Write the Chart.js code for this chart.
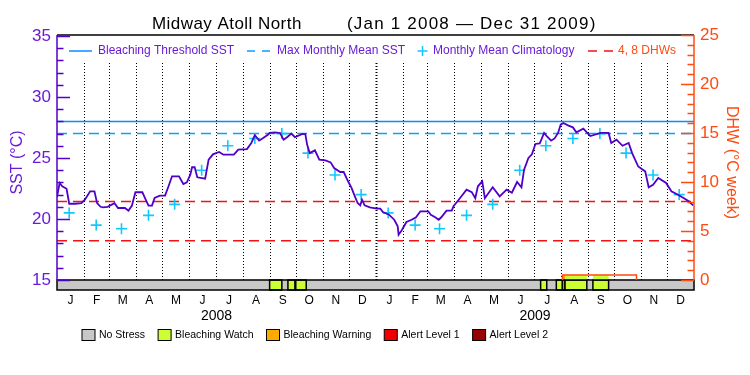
<!DOCTYPE html>
<html>
<head>
<meta charset="utf-8">
<script src="https://cdn.jsdelivr.net/npm/chart.js@4.4.1/dist/chart.umd.min.js"></script>
<style>
  html, body { margin: 0; padding: 0; background: #fff; }
</style>
</head>
<body>
<canvas id="chart" width="750" height="375"></canvas>
<script>
const FONT = '"Liberation Sans", Arial, sans-serif';

// SST, day 0 = Jan 1 2008
const sstDays = [0, 3, 6, 11, 14, 21, 28, 32, 38, 43, 46, 50, 53, 58, 66, 70, 78, 82, 86, 90,
  98, 101, 105, 109, 112, 118, 124, 128, 132, 140, 145, 149, 153, 155, 158, 161, 170, 174, 179, 186,
  191, 203, 208, 218, 223, 227, 232, 237, 242, 244, 250, 256, 260, 264, 269, 273, 281, 285, 287, 290,
  296, 301, 308, 314, 318, 325, 329, 334, 338, 341, 345, 348, 350, 353, 359, 367, 371, 374, 381, 387,
  391, 392, 396, 401, 407, 412, 417, 426, 429, 434, 438, 441, 447, 453, 455, 461, 470, 476, 480, 483,
  488, 491, 494, 500, 508, 516, 522, 528, 533, 536, 541, 545, 549, 554, 559, 562, 567, 571, 575, 578,
  581, 587, 592, 596, 604, 612, 624, 633, 636, 642, 649, 656, 660, 667, 675, 679, 684, 690, 699, 705,
  711, 719, 725, 730];
const sstValues = [21.8, 22.95, 22.68, 22.48, 21.25, 21.25, 21.3, 21.58, 22.27, 22.27, 21.3, 21.0, 20.95, 21.0, 21.3, 20.9, 20.9, 20.68, 21.1, 22.19,
  22.19, 21.72, 21.1, 21.1, 21.72, 21.91, 21.91, 22.68, 23.5, 23.5, 22.87, 23.0, 23.63, 24.24, 24.24, 23.42, 23.3, 24.86, 25.3, 25.5,
  25.27, 25.27, 25.68, 25.73, 26.23, 26.86, 26.42, 26.65, 26.9, 27.05, 27.1, 27.05, 26.5, 26.7, 27.0, 26.7, 26.95, 26.95, 26.1, 25.4,
  25.63, 24.86, 24.8, 24.64, 24.18, 23.85, 23.85, 23.09, 22.55, 22.0, 21.31, 21.12, 21.58, 21.12, 20.96, 20.85, 20.85, 20.57, 20.35, 19.94,
  19.4, 18.71, 19.12, 19.75, 19.94, 20.14, 20.63, 20.63, 20.35, 20.14, 19.94, 20.14, 20.68, 20.68, 21.04, 21.58, 22.4, 22.2, 21.7, 22.68,
  23.09, 21.7, 22.0, 22.6, 21.86, 22.4, 22.15, 23.03, 22.6, 24.04, 25.0, 25.3, 26.15, 26.2, 27.05, 26.8, 26.42, 26.6, 27.05, 27.73,
  27.87, 27.65, 27.51, 27.1, 27.4, 26.8, 27.05, 27.05, 26.23, 26.5, 26.0, 26.23, 25.4, 24.3, 23.9, 22.6, 22.8, 23.36, 22.95, 22.27,
  22.05, 21.72, 21.45, 21.12];

const climMonthly = [20.5, 19.5, 19.2, 20.3, 21.2, 24.0, 26.0, 26.6, 27.0, 25.4, 23.6, 22.0];
const bleachingThreshold = 28.0;
const maxMonthlyMean = 27.0;
const dhwLevels = [4, 8];

// degree heating weeks (outline above the stress bar)
const dhwDays = [580, 580, 665, 665];
const dhwValues = [0, 0.5, 0.5, 0];

// stress bar segments (days), level indexes stressNames
const stressStart = [244, 265, 274, 555, 573, 580, 583, 615];
const stressEnd = [258, 273, 286, 562, 580, 583, 608, 633];
const stressLevel = [1, 1, 1, 1, 1, 2, 1, 1];
const stressNames = ['No Stress', 'Bleaching Watch', 'Bleaching Warning', 'Alert Level 1', 'Alert Level 2'];
const stressColors = ['#c8c8c8', '#ccff33', '#ffaa00', '#f00000', '#990000'];

const years = [2008, 2009];
const monthLetters = ['J', 'F', 'M', 'A', 'M', 'J', 'J', 'A', 'S', 'O', 'N', 'D'];
const sstTicks = [15, 20, 25, 30, 35];
const dhwTicks = [0, 5, 10, 15, 20, 25];

const PURPLE = '#5000c8';
const PURPLE_TXT = '#6a1ad8';
const BLUE = '#0a8cff';
const LBLUE = '#0aa0ff';
const CYAN = '#10c8ff';
const RED = '#f01414';
const ORANGE = '#ff4a10';

const DAY = 86400000;
const dayOf = (y, m, d) => Math.round((Date.UTC(y, m, d) - Date.UTC(years[0], 0, 1)) / DAY);
const monthStarts = [];
years.forEach(y => { for (let m = 0; m < 12; m++) monthStarts.push(dayOf(y, m, 1)); });
const lastDay = dayOf(years[years.length - 1] + 1, 0, 1);
const monthMids = monthStarts.map((s, i) => (s + (i + 1 < monthStarts.length ? monthStarts[i + 1] : lastDay)) / 2);
const climPoints = [];
years.forEach(y => climMonthly.forEach((v, m) => climPoints.push({ x: dayOf(y, m, 15), y: v })));

function dhwAt(d) {
    for (let i = 0; i < dhwDays.length - 1; i++) {
        if (dhwDays[i] < dhwDays[i + 1] && d >= dhwDays[i] && d <= dhwDays[i + 1]) {
            const t = (d - dhwDays[i]) / (dhwDays[i + 1] - dhwDays[i]);
            return dhwValues[i] + t * (dhwValues[i + 1] - dhwValues[i]);
        }
    }
    return 0;
}

function hline(value, color, dash, axis) {
    return {
        data: [{ x: 0, y: value }, { x: lastDay, y: value }],
        borderColor: color, borderWidth: 1.5, borderDash: dash,
        pointRadius: 0, yAxisID: axis, order: 3
    };
}

const frame = {
    id: 'frame',
    beforeDatasetsDraw(chart) {
        const { ctx, chartArea: a, scales: { x, y, y2 } } = chart;
        const base = y.getPixelForValue(sstTicks[0]);
        ctx.save();
        // dotted month lines
        ctx.strokeStyle = '#000';
        ctx.setLineDash([1, 2]);
        monthStarts.forEach(d => {
            if (d === 0) return;
            const px = Math.round(x.getPixelForValue(d)) + 0.5;
            ctx.lineWidth = d === dayOf(years[1], 0, 1) ? 2 : 1;
            ctx.beginPath();
            ctx.moveTo(px, a.top + 28);
            ctx.lineTo(px, base);
            ctx.stroke();
        });
        ctx.setLineDash([]);

        // stress bar
        ctx.fillStyle = stressColors[0];
        ctx.fillRect(a.left, base, a.right - a.left, a.bottom - base);
        ctx.lineWidth = 1.5;
        ctx.strokeStyle = '#000';
        const z = y2.getPixelForValue(0);
        stressStart.forEach((s, i) => {
            const x0 = x.getPixelForValue(s), x1 = x.getPixelForValue(stressEnd[i]);
            ctx.fillStyle = stressColors[stressLevel[i]];
            ctx.fillRect(x0, base, x1 - x0, a.bottom - base);
            ctx.strokeRect(x0, base, x1 - x0, a.bottom - base);
            // colour the area under the DHW curve
            const lo = Math.max(s, dhwDays[0]), hi = Math.min(stressEnd[i], dhwDays[dhwDays.length - 1]);
            if (hi > lo) {
                const top = y2.getPixelForValue(dhwAt((lo + hi) / 2));
                const p0 = x.getPixelForValue(lo), p1 = x.getPixelForValue(hi);
                ctx.fillRect(p0, top, p1 - p0, z - top);
            }
        });
        ctx.strokeRect(a.left, base, a.right - a.left, a.bottom - base);
        ctx.restore();
    },
    afterDatasetsDraw(chart) {
        const { ctx, chartArea: a, scales: { x, y, y2 } } = chart;
        const base = y.getPixelForValue(sstTicks[0]);
        ctx.save();
        // frame
        ctx.lineWidth = 1.5;
        ctx.strokeStyle = '#000';
        ctx.beginPath(); ctx.moveTo(a.left, a.top); ctx.lineTo(a.right, a.top); ctx.stroke();
        ctx.strokeStyle = PURPLE;
        ctx.beginPath(); ctx.moveTo(a.left, a.top); ctx.lineTo(a.left, base); ctx.stroke();
        ctx.strokeStyle = ORANGE;
        ctx.beginPath(); ctx.moveTo(a.right, a.top); ctx.lineTo(a.right, base); ctx.stroke();

        // inward ticks
        ctx.strokeStyle = PURPLE;
        for (let v = sstTicks[0]; v <= sstTicks[sstTicks.length - 1]; v++) {
            const py = Math.round(y.getPixelForValue(v)) + 0.5;
            ctx.beginPath(); ctx.moveTo(a.left, py); ctx.lineTo(a.left + (v % 5 === 0 ? 13 : 6.5), py); ctx.stroke();
        }
        ctx.strokeStyle = ORANGE;
        for (let v = dhwTicks[0]; v <= dhwTicks[dhwTicks.length - 1]; v++) {
            const py = Math.round(y2.getPixelForValue(v)) + 0.5;
            ctx.beginPath(); ctx.moveTo(a.right, py); ctx.lineTo(a.right - (v % 5 === 0 ? 13 : 6.5), py); ctx.stroke();
        }

        // title, two parts
        ctx.fillStyle = '#000';
        ctx.font = '17px ' + FONT;
        ctx.textAlign = 'left';
        ctx.textBaseline = 'alphabetic';
        ctx.letterSpacing = '0.45px';
        ctx.fillText('Midway Atoll North', 152, 29);
        ctx.letterSpacing = '1.2px';
        ctx.fillText('(Jan 1 2008 \u2014 Dec 31 2009)', 347, 29);
        ctx.letterSpacing = '0px';

        // year labels
        ctx.textAlign = 'center';
        ctx.font = '14px ' + FONT;
        ctx.textBaseline = 'middle';
        years.forEach(yr => {
            const mid = (dayOf(yr, 0, 1) + dayOf(yr + 1, 0, 1)) / 2;
            ctx.fillText(String(yr), x.getPixelForValue(mid), 316);
        });

        // top legend
        const ly = a.top + 16;
        ctx.font = '12px ' + FONT;
        ctx.textAlign = 'left';
        ctx.lineWidth = 1.5;
        const sample = (x0, x1, color, dash) => {
            ctx.strokeStyle = color; ctx.setLineDash(dash);
            ctx.beginPath(); ctx.moveTo(x0, ly); ctx.lineTo(x1, ly); ctx.stroke();
            ctx.setLineDash([]);
        };
        sample(69, 92, BLUE, []);
        ctx.fillStyle = PURPLE_TXT;
        ctx.fillText('Bleaching Threshold SST', 98, ly);
        sample(247, 270, LBLUE, [8, 7]);
        ctx.fillText('Max Monthly Mean SST', 277, ly);
        ctx.strokeStyle = CYAN;
        ctx.beginPath();
        ctx.moveTo(417.5, ly); ctx.lineTo(427.5, ly);
        ctx.moveTo(422.5, ly - 5); ctx.lineTo(422.5, ly + 5);
        ctx.stroke();
        ctx.fillText('Monthly Mean Climatology', 433, ly);
        sample(588, 613, RED, [9, 7]);
        ctx.fillStyle = ORANGE;
        ctx.fillText('4, 8 DHWs', 618, ly);

        // stress legend
        ctx.font = '10.5px ' + FONT;
        ctx.lineWidth = 1;
        let bx = 82;
        const by = 329.5;
        stressNames.forEach((name, i) => {
            ctx.fillStyle = stressColors[i];
            ctx.fillRect(bx, by, 13, 11);
            ctx.strokeStyle = '#000';
            ctx.strokeRect(bx, by, 13, 11);
            ctx.fillStyle = '#000';
            ctx.fillText(name, bx + 17, by + 6);
            bx += 17 + ctx.measureText(name).width + 13;
        });
        ctx.restore();
    }
};

new Chart(document.getElementById('chart'), {
    type: 'line',
    data: {
        datasets: [
            {
                label: 'SST',
                data: sstDays.map((d, i) => ({ x: d, y: sstValues[i] })),
                borderColor: PURPLE, borderWidth: 1.8, pointRadius: 0,
                yAxisID: 'y', order: 0
            },
            {
                label: 'Monthly Mean Climatology',
                data: climPoints, showLine: false,
                pointStyle: 'cross', pointRadius: 5.5, pointBorderWidth: 1.6,
                pointBorderColor: CYAN, borderColor: CYAN,
                yAxisID: 'y', order: 1
            },
            hline(bleachingThreshold, BLUE, [], 'y'),
            hline(maxMonthlyMean, LBLUE, [10, 6], 'y'),
            ...dhwLevels.map(l => hline(l, RED, [10, 6], 'y2')),
            {
                label: 'DHW',
                data: dhwDays.map((d, i) => ({ x: d, y: dhwValues[i] })),
                borderColor: ORANGE, borderWidth: 1.5, pointRadius: 0,
                yAxisID: 'y2', order: 2
            }
        ]
    },
    options: {
        responsive: false,
        animation: false,
        layout: { padding: { top: 35 } },
        plugins: { legend: { display: false }, tooltip: { enabled: false } },
        scales: {
            x: {
                type: 'linear', min: 0, max: lastDay,
                grid: { display: false, drawTicks: false },
                border: { display: false },
                afterBuildTicks: s => { s.ticks = monthMids.map(v => ({ value: v })); },
                afterFit: s => { s.height = 85; },
                ticks: {
                    autoSkip: false, maxRotation: 0, padding: 3, color: '#000',
                    font: { family: FONT, size: 12 },
                    callback: (v, i) => monthLetters[i % 12]
                }
            },
            y: {
                position: 'left', min: 14.18, max: 35.08,
                grid: { display: false, drawTicks: false },
                border: { display: false },
                afterBuildTicks: s => { s.ticks = sstTicks.map(v => ({ value: v })); },
                afterFit: s => { s.width = 57; },
                ticks: { padding: 6, color: PURPLE_TXT, font: { family: FONT, size: 17 } },
                title: {
                    display: true, text: 'SST (\u00B0C)', color: PURPLE_TXT,
                    font: { family: FONT, size: 16 }, padding: { top: 8, bottom: 0 }
                }
            },
            y2: {
                position: 'right', min: -1.02, max: 25,
                grid: { display: false, drawTicks: false },
                border: { display: false },
                afterBuildTicks: s => { s.ticks = dhwTicks.map(v => ({ value: v })); },
                afterFit: s => { s.width = 56; },
                ticks: { padding: 6, color: ORANGE, font: { family: FONT, size: 17 } },
                title: {
                    display: true, text: 'DHW (\u00B0C week)', color: ORANGE,
                    font: { family: FONT, size: 16 }, padding: { top: 9, bottom: 0 }
                }
            }
        }
    },
    plugins: [frame]
});
</script>
</body>
</html>
